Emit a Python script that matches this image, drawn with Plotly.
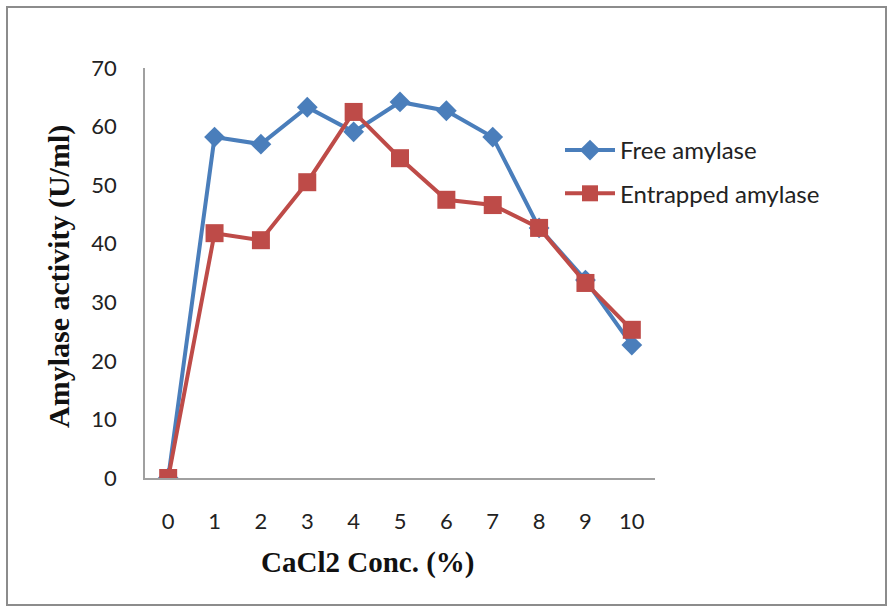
import plotly.graph_objects as go

categories = ["0", "1", "2", "3", "4", "5", "6", "7", "8", "9", "10"]
free_amylase = [0, 58.2, 57.0, 63.3, 59.1, 64.2, 62.7, 58.2, 42.7, 33.8, 22.7]
entrapped_amylase = [0, 41.8, 40.6, 50.5, 62.5, 54.6, 47.5, 46.6, 42.7, 33.3, 25.3]
y_ticks = [0, 10, 20, 30, 40, 50, 60, 70]

BLUE = "#4A7EBB"
RED = "#BE4B48"

fig = go.Figure()
fig.add_trace(go.Scatter(
    x=categories, y=free_amylase, name="Free amylase", mode="lines+markers",
    legendgroup="a",
    line=dict(color=BLUE, width=4),
    marker=dict(symbol="diamond", size=16, color=BLUE),
))
fig.add_trace(go.Scatter(
    x=categories, y=entrapped_amylase, name="Entrapped amylase", mode="lines+markers",
    legendgroup="b",
    line=dict(color=RED, width=4),
    marker=dict(symbol="square", size=18, color=RED),
))

tick_font = dict(family="Lato, Open Sans, sans-serif", size=22, color="#222222")

fig.update_layout(
    width=894, height=610,
    margin=dict(l=145, r=239, t=68, b=132),
    paper_bgcolor="white", plot_bgcolor="white",
    showlegend=True,
    legend=dict(
        x=(560 - 145) / 510, y=(478 - 128) / 410, xanchor="left", yanchor="top",
        font=dict(family="Lato, Open Sans, sans-serif", size=24, color="#222222"),
        bgcolor="rgba(0,0,0,0)", traceorder="grouped", tracegroupgap=9,
        itemwidth=50,
    ),
    xaxis=dict(
        type="category", categoryorder="array", categoryarray=categories,
        showgrid=False, zeroline=False,
        showline=True, linecolor="#A0A0A0", linewidth=1.5,
        ticks="", tickfont=tick_font, ticklabelstandoff=23,
        range=[-0.5, 10.5],
    ),
    yaxis=dict(
        range=[0, 70], tickvals=y_ticks, showgrid=False, zeroline=False,
        showline=True, linecolor="#A0A0A0", linewidth=1.5,
        ticks="", tickfont=tick_font, ticklabelstandoff=22,
    ),
    shapes=[dict(
        type="rect", xref="paper", yref="paper",
        x0=(7 - 145) / 510, x1=(886 - 145) / 510,
        y0=(478 - 605) / 410, y1=(478 - 7) / 410,
        line=dict(color="#8C8C8C", width=2), fillcolor="rgba(0,0,0,0)",
        layer="below",
    )],
    annotations=[
        dict(text="<b>CaCl2 Conc. (%)</b>", xref="paper", yref="paper",
             x=(367 - 145) / 510, y=(478 - 562) / 410, xanchor="center", yanchor="middle",
             showarrow=False,
             font=dict(family="Liberation Serif, Times New Roman, serif", size=29, color="#111111")),
        dict(text="<b>Amylase activity (U/ml)</b>", xref="paper", yref="paper",
             x=(59 - 145) / 510, y=(478 - 277) / 410, xanchor="center", yanchor="middle",
             textangle=-90, showarrow=False,
             font=dict(family="Liberation Serif, Times New Roman, serif", size=30, color="#111111")),
    ],
)

fig.write_html("out.html")
